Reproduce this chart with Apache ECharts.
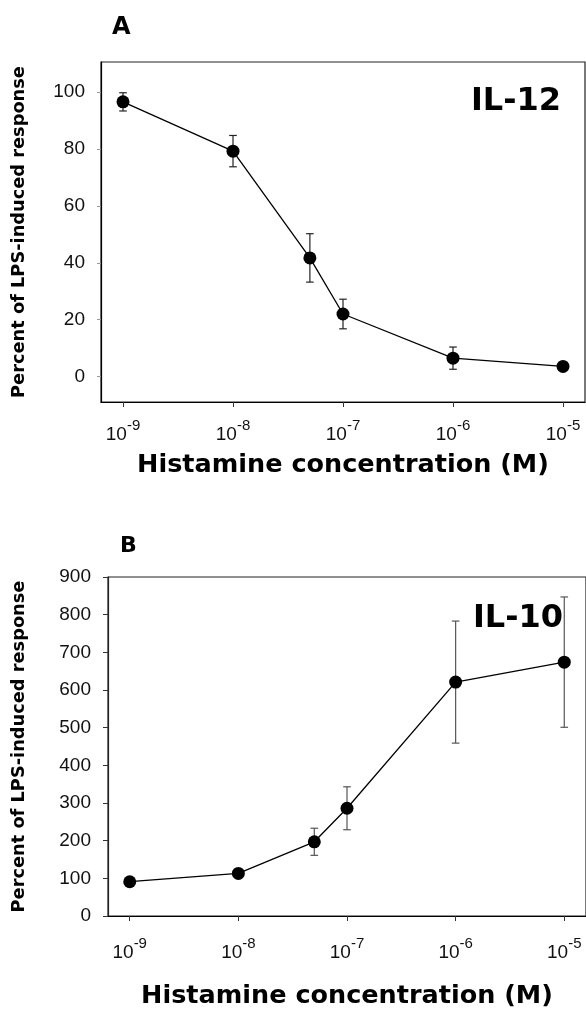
<!DOCTYPE html>
<html>
<head>
<meta charset="utf-8">
<style>
html,body{margin:0;padding:0;background:#fff;}
#chart{width:586px;height:1016px;}
</style>
<script src="https://cdn.jsdelivr.net/npm/echarts@6/dist/echarts.min.js"></script>
</head>
<body>
<div id="chart"></div>
<script>
// Histamine concentrations (M)
var concentrations = [1e-9, 1e-8, 5e-8, 1e-7, 1e-6, 1e-5];
var xTickValues = [1e-9, 1e-8, 1e-7, 1e-6, 1e-5];
// Panel A: IL-12
var il12Mean = [96.5, 79.2, 41.7, 22.0, 6.5, 3.6];
var il12Err  = [3.2, 5.5, 8.5, 5.2, 3.9, 0.8];
var il12YTicks = [0, 20, 40, 60, 80, 100];
// Panel B: IL-10
var il10Mean = [91, 113, 197, 286, 621, 674];
var il10Err  = [4, 4, 36, 57, 162, 173];

var chart = echarts.init(document.getElementById('chart'), null, {renderer: 'canvas'});

var boldFont = '"DejaVu Sans", "Liberation Sans", sans-serif';
var regFont = '"Liberation Sans", Arial, sans-serif';

function pairs(means) {
  return concentrations.map(function (c, i) { return [c, means[i]]; });
}
function errs(means, e) {
  return concentrations.map(function (c, i) { return [c, means[i] - e[i], means[i] + e[i]]; });
}
function errRender(color) {
  return function (params, api) {
    var x = api.value(0);
    var lo = api.coord([x, api.value(1)]);
    var hi = api.coord([x, api.value(2)]);
    var w = 3.8;
    var st = {stroke: color, lineWidth: 1.2};
    return {
      type: 'group',
      children: [
        {type: 'line', shape: {x1: lo[0], y1: lo[1], x2: hi[0], y2: hi[1]}, style: st},
        {type: 'line', shape: {x1: lo[0] - w, y1: lo[1], x2: lo[0] + w, y2: lo[1]}, style: st},
        {type: 'line', shape: {x1: hi[0] - w, y1: hi[1], x2: hi[0] + w, y2: hi[1]}, style: st}
      ]
    };
  };
}

function xAxisDef(gridIndex, gap, margin) {
  return {
    type: 'log',
    logBase: 10,
    gridIndex: gridIndex,
    min: Math.pow(10, -9.2),
    max: Math.pow(10, -4.8),
    name: 'Histamine concentration (M)',
    nameLocation: 'middle',
    nameGap: gap,
    nameTextStyle: {fontFamily: boldFont, fontWeight: 'bold', fontSize: 25.5, color: '#000'},
    axisLine: {show: true, onZero: false, lineStyle: {color: '#000', width: 1.2}},
    axisTick: {show: true, length: 5, inside: false, customValues: xTickValues, lineStyle: {color: '#333'}},
    splitLine: {show: false},
    minorTick: {show: false},
    axisLabel: {
      customValues: xTickValues,
      margin: margin,
      formatter: function (v) {
        var e = Math.round(Math.log10(v));
        return '{b|10}{s|' + (e < 0 ? '-' + (-e) : e) + '}';
      },
      rich: {
        b: {fontFamily: regFont, fontSize: 19, color: '#111', lineHeight: 26, verticalAlign: 'bottom'},
        s: {fontFamily: regFont, fontSize: 15, color: '#111', lineHeight: 15, verticalAlign: 'top'}
      }
    }
  };
}

var option = {
  backgroundColor: '#fff',
  animation: false,
  grid: [
    {left: 101, top: 62, width: 484, height: 340, show: true, borderColor: '#222', borderWidth: 1.2, backgroundColor: 'transparent', containLabel: false},
    {left: 108, top: 577, width: 485, height: 339, show: true, borderColor: '#222', borderWidth: 1.2, backgroundColor: 'transparent', containLabel: false}
  ],
  xAxis: [xAxisDef(0, 50, 16), xAxisDef(1, 67, 20)],
  yAxis: [
    {
      type: 'value', gridIndex: 0, min: -8.9, max: 110.5,
      name: 'Percent of LPS-induced response', nameLocation: 'middle', nameGap: 73,
      nameTextStyle: {fontFamily: boldFont, fontWeight: 'bold', fontSize: 17.8, color: '#000'},
      axisLine: {show: true, onZero: false, lineStyle: {color: '#000', width: 1.2}},
      axisTick: {show: true, length: 4, customValues: il12YTicks, lineStyle: {color: '#999'}},
      splitLine: {show: false},
      axisLabel: {customValues: il12YTicks, margin: 16, fontFamily: regFont, fontSize: 19, color: '#111'}
    },
    {
      type: 'value', gridIndex: 1, min: 0, max: 900, interval: 100,
      name: 'Percent of LPS-induced response', nameLocation: 'middle', nameGap: 80,
      nameTextStyle: {fontFamily: boldFont, fontWeight: 'bold', fontSize: 17.8, color: '#000'},
      axisLine: {show: true, onZero: false, lineStyle: {color: '#222', width: 1.2}},
      axisTick: {show: true, length: 5, lineStyle: {color: '#333'}},
      splitLine: {show: false},
      axisLabel: {margin: 17, fontFamily: regFont, fontSize: 19, color: '#111'}
    }
  ],
  graphic: [
    {type: 'text', left: 112, top: 16, style: {text: 'A', font: 'bold 24px ' + boldFont, fill: '#000'}},
    {type: 'text', left: 120, top: 535, style: {text: 'B', font: 'bold 22px ' + boldFont, fill: '#000'}},
    {type: 'text', x: 516, y: 102, style: {text: 'IL-12', font: 'bold 32px ' + boldFont, fill: '#000', textAlign: 'center', textVerticalAlign: 'middle'}},
    {type: 'text', x: 518, y: 619, style: {text: 'IL-10', font: 'bold 32px ' + boldFont, fill: '#000', textAlign: 'center', textVerticalAlign: 'middle'}}
  ],
  series: [
    {type: 'custom', xAxisIndex: 0, yAxisIndex: 0, renderItem: errRender('#222'), data: errs(il12Mean, il12Err), z: 2},
    {type: 'line', xAxisIndex: 0, yAxisIndex: 0, data: pairs(il12Mean), symbol: 'circle', symbolSize: 13,
      lineStyle: {color: '#000', width: 1.3}, itemStyle: {color: '#000'}, z: 3},
    {type: 'custom', xAxisIndex: 1, yAxisIndex: 1, renderItem: errRender('#555'), data: errs(il10Mean, il10Err), z: 2},
    {type: 'line', xAxisIndex: 1, yAxisIndex: 1, data: pairs(il10Mean), symbol: 'circle', symbolSize: 13,
      lineStyle: {color: '#000', width: 1.3}, itemStyle: {color: '#000'}, z: 3}
  ]
};
chart.setOption(option);
</script>
</body>
</html>
